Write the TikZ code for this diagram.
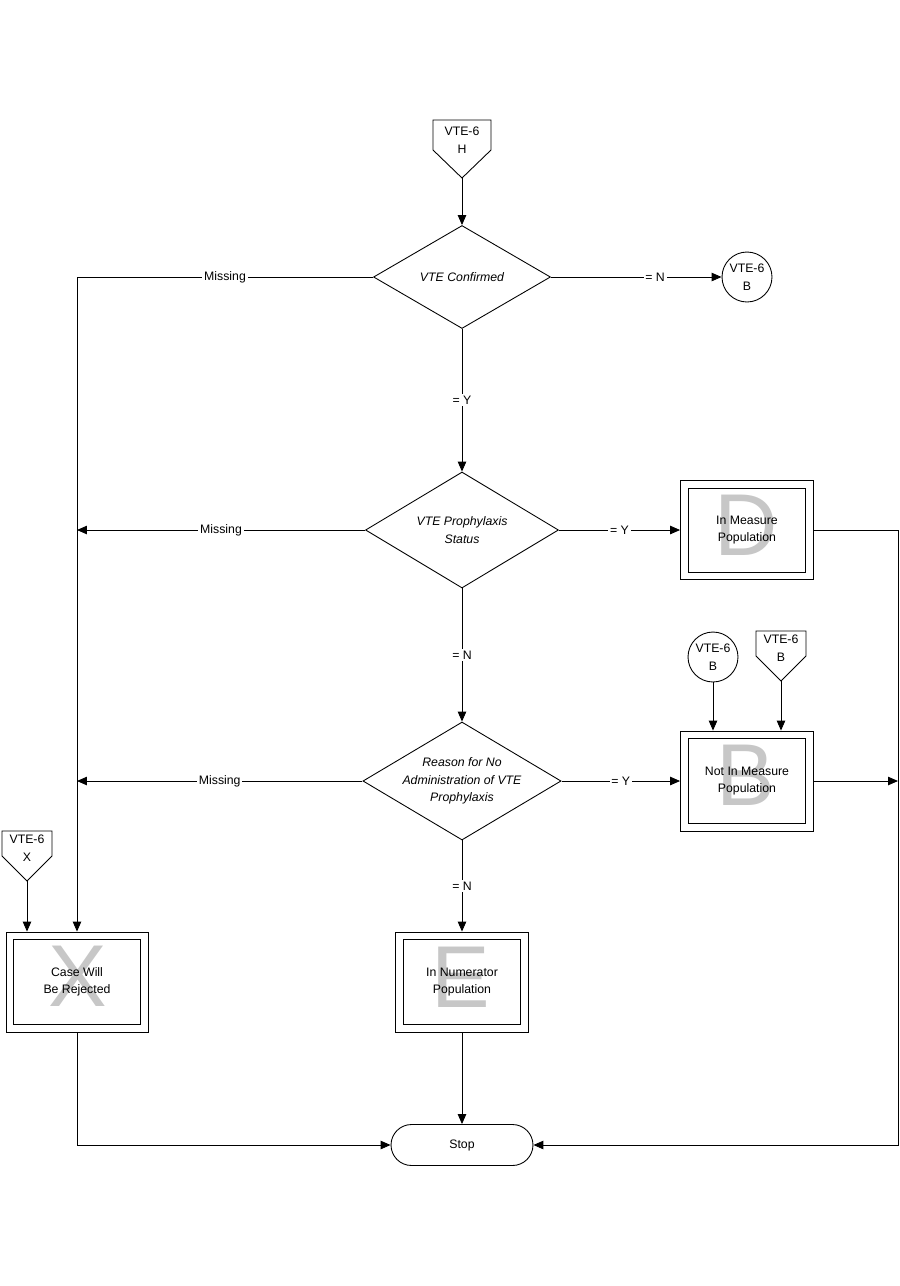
\documentclass[tikz,border=0pt]{standalone}
\usepackage{fontspec}
\setmainfont{Liberation Sans}
\usetikzlibrary{shapes,arrows.meta}

\begin{document}
\begin{tikzpicture}[x=0.02cm, y=-0.02cm, line width=0.5pt]
  \tikzstyle{decision} = [diamond, draw=black, aspect=1.7, inner sep=0pt, align=center, font=\fontsize{7}{10}\selectfont\itshape]
  \tikzstyle{result} = [rectangle, draw=black, inner sep=0pt, align=center, font=\fontsize{7}{10}\selectfont]
  \tikzstyle{ghost} = [text=black!22, font=\fontsize{50}{50}\selectfont, inner sep=0pt]
  \tikzstyle{connector} = [circle, draw=black, minimum size=1cm, inner sep=0pt, align=center, font=\fontsize{7}{10}\selectfont]
  \tikzstyle{offpage} = [inner sep=0pt, align=center, font=\fontsize{7}{10}\selectfont]
  \tikzstyle{terminal} = [rectangle, rounded corners=0.41cm, draw=black, minimum width=2.84cm, minimum height=0.82cm, font=\fontsize{7}{10}\selectfont]
  \tikzstyle{answer} = [fill=white, inner sep=1pt, font=\fontsize{7}{10}\selectfont]
  \tikzstyle{arrow} = [-{Triangle[length=0.2cm, width=0.17cm]}]

  \useasboundingbox (0,0) rectangle (900,1286);

  % off-page entry points
  \node (offH) [offpage] at (462,140) {VTE-6\\H};
  \draw (offH.center) ++(-29,-20) -- ++(58,0) -- ++(0,30) -- ++(-29,28) -- ++(-29,-28) -- cycle;
  \coordinate (tipH) at ([shift={(0,38)}]offH.center);

  \node (offB) [offpage] at (781,648) {VTE-6\\B};
  \draw (offB.center) ++(-25,-17) -- ++(50,0) -- ++(0,25) -- ++(-25,25) -- ++(-25,-25) -- cycle;
  \coordinate (tipB) at ([shift={(0,33)}]offB.center);

  \node (offX) [offpage] at (27,848) {VTE-6\\X};
  \draw (offX.center) ++(-25,-17) -- ++(50,0) -- ++(0,25) -- ++(-25,25) -- ++(-25,-25) -- cycle;
  \coordinate (tipX) at ([shift={(0,33)}]offX.center);

  % decisions
  \node (d1) [decision, minimum width=3.54cm, minimum height=2.06cm] at (462,277) {VTE Confirmed};
  \node (d2) [decision, minimum width=3.86cm, minimum height=2.32cm] at (462,530) {VTE Prophylaxis\\Status};
  \node (d3) [decision, minimum width=3.86cm, minimum height=2.36cm] at (462,781) {Reason for No\\Administration of VTE\\Prophylaxis};

  \node (c1) [connector] at (747,277) {VTE-6\\B};
  \node (c2) [connector] at (713,657) {VTE-6\\B};

  % outcome boxes (letters first, boxes on top)
  \node (wD) [ghost] at (746,525) {D};
  \node (wB) [ghost] at (746,775) {B};
  \node (wE) [ghost] at (461,977) {E};
  \node (wX) [ghost] at (78,976) {X};
  \node (inbox) [result, minimum width=2.66cm, minimum height=1.98cm] at (747,530) {In Measure\\Population};
  \node (notbox) [result, minimum width=2.66cm, minimum height=2cm] at (747,781) {Not In Measure\\Population};
  \node (numbox) [result, minimum width=2.66cm, minimum height=2cm] at (462,982) {In Numerator\\Population};
  \node (casebox) [result, minimum width=2.84cm, minimum height=2cm] at (77,982) {Case Will\\Be Rejected};
  \foreach \b in {inbox, notbox, numbox, casebox}
    \draw ([shift={(8,8)}]\b.north west) rectangle ([shift={(-8,-8)}]\b.south east);

  \node (stop) [terminal] at (462,1145) {Stop};
  \coordinate (rail) at (898,1145);

  % flow
  \draw [arrow] (tipH) -- (d1.north);
  \draw [arrow] (d1.east) -- node[answer, pos=0.61] {= N} (c1.west);
  \draw [arrow] (d1.west) -| node[answer, pos=0.25] {Missing} (casebox.north);
  \draw [arrow] (d1.south) -- node[answer] {= Y} (d2.north);
  \draw [arrow] (d2.west) -- node[answer] {Missing} (d2.west -| casebox.north);
  \draw [arrow] (d2.east) -- node[answer] {= Y} (inbox.west);
  \draw [arrow] (d2.south) -- node[answer] {= N} (d3.north);
  \draw [arrow] (d3.west) -- node[answer] {Missing} (d3.west -| casebox.north);
  \draw [arrow] (d3.east) -- node[answer] {= Y} (notbox.west);
  \draw [arrow] (d3.south) -- node[answer] {= N} (numbox.north);
  \draw [arrow] (c2.south) -- (c2.south |- notbox.north);
  \draw [arrow] (tipB) -- (tipB |- notbox.north);
  \draw [arrow] (tipX) -- (tipX |- casebox.north);
  \draw [arrow] (inbox.east) -| (rail) -- (stop.east);
  \draw [arrow] (notbox.east) -- (notbox.east -| rail);
  \draw [arrow] (casebox.south) |- (stop.west);
  \draw [arrow] (numbox.south) -- (stop.north);
\end{tikzpicture}
\end{document}
